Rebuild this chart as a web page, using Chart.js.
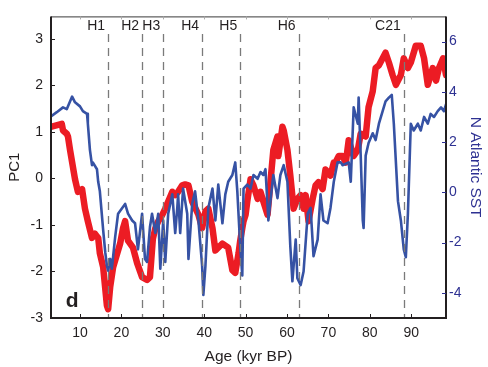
<!DOCTYPE html>
<html>
<head>
<meta charset="utf-8">
<script src="https://cdn.jsdelivr.net/npm/chart.js@4/dist/chart.umd.min.js"></script>
<style>
  html, body { margin: 0; padding: 0; background: #fff; }
  #grafico { display: block; }
</style>
</head>
<body>
<canvas id="grafico" width="488" height="367"></canvas>
<script>
// Datos
// PC1 (rojo, eje izquierdo)
const edadPC1 = [3.15,5.6,5.9,6.8,7.1,7.6,8.8,9.5,10.5,11.2,
  11.9,12.9,13.6,14.4,14.8,15.6,16.5,16.8,17.3,18.0,
  19.0,19.7,20.4,20.9,21.6,22.8,23.8,25.0,26.2,26.9,
  27.6,28.2,28.9,29.9,30.6,32.3,33.0,33.7,34.7,35.4,
  36.2,37.1,38.6,39.5,40.3,41.0,42.0,42.7,44.4,45.8,
  46.8,47.5,48.3,48.7,49.2,49.5,50.0,50.4,51.2,51.9,
  52.9,53.6,54.3,55.3,56.0,56.7,57.7,57.9,58.9,59.2,
  60.1,60.8,61.6,62.5,63.3,64.0,64.5,65.2,66.2,66.9,
  67.6,68.6,69.3,70.5,71.3,71.7,72.5,73.4,74.2,74.9,
  76.1,77.1,77.8,79.0,79.7,80.7,81.4,82.2,83.1,83.8,
  84.6,85.5,86.3,87.5,88.2,89.2,89.9,91.1,92.3,93.1,
  94.0,95.2,96.0,96.7,97.7,98.4];
const valoresPC1 = [1.11,1.17,1.03,0.96,0.90,0.61,-0.02,-0.29,-0.23,-0.65,
  -0.92,-1.28,-1.19,-1.28,-1.61,-1.91,-2.73,-2.81,-2.33,-1.91,
  -1.61,-1.40,-1.07,-0.92,-1.34,-1.49,-1.82,-2.12,-2.18,-2.12,
  -1.3,-1.07,-0.92,-0.78,-0.65,-0.29,-0.36,-0.29,-0.15,-0.13,
  -0.15,-0.50,-0.78,-1.07,-0.71,-0.65,-1.07,-1.55,-1.40,-1.49,
  -1.97,-2.03,-1.61,-1.34,-1.07,-0.92,-0.78,-0.50,-0.02,-0.15,
  -0.44,-0.29,-0.50,-0.78,-0.08,0.61,0.90,0.48,1.11,1.03,
  0.61,0.06,-0.65,-0.44,-0.36,-0.65,-0.36,-0.92,-0.44,-0.15,
  -0.08,-0.23,0.19,0.06,0.34,0.34,0.48,0.48,0.34,0.82,
  0.48,0.61,0.96,0.90,1.53,1.87,2.37,2.43,2.58,2.70,
  2.49,2.22,2.01,2.22,2.58,2.37,2.49,2.85,2.85,2.58,
  2.01,2.37,2.10,2.37,2.58,2.22];

// N Atlantic SST (azul, eje derecho)
const edadSST = [3.15,4.4,5.9,6.8,8.1,8.8,10.0,10.7,11.7,11.9,
  12.4,12.9,13.1,14.1,14.4,14.8,15.6,16.1,16.5,16.8,
  17.3,17.7,18.5,19.2,20.2,20.9,21.6,22.6,23.3,24.0,
  25.0,25.7,26.2,26.9,27.4,28.2,28.9,29.4,30.1,30.6,
  31.3,32.3,33.0,33.5,33.7,34.2,34.9,35.9,36.2,37.1,
  37.8,38.6,39.5,39.8,40.3,41.0,42.0,42.7,43.4,44.4,
  45.1,45.8,46.8,47.5,48.0,48.7,49.2,49.5,50.4,51.2,
  51.9,52.9,53.6,54.3,54.8,55.5,56.5,56.7,57.7,58.4,
  59.2,60.1,60.8,61.3,62.1,62.5,63.3,64.0,65.0,65.7,
  66.4,67.4,68.1,68.8,69.8,70.5,71.3,72.2,73.0,73.4,
  74.9,75.4,76.1,77.1,77.3,77.8,78.3,78.5,79.0,79.7,
  80.7,81.4,82.2,83.1,83.8,84.6,85.3,85.8,86.8,87.5,
  88.2,88.7,89.2,89.9,90.6,91.6,92.3,93.1,94.0,94.7,
  95.5,96.4,97.2,97.9,98.4];
const valoresSST = [3.04,3.19,3.38,3.31,3.81,3.58,3.42,3.23,3.12,2.73,
  1.69,1.08,1.19,0.92,0.42,0.04,-1.50,-2.38,-2.92,-3.12,
  -2.65,-3.04,-1.77,-0.85,-0.62,-0.46,-0.85,-1.12,-1.23,-2.27,
  -0.85,-2.65,-2.77,-1.38,-0.85,-1.62,-0.85,-3.04,-1.12,-2.77,
  -0.85,-0.08,-1.62,-0.62,-0.08,-1.62,0.15,-0.85,-2.65,-0.46,
  0.04,-1.12,-2.92,-4.08,-2.92,-0.62,0.15,-1.12,0.31,-1.23,
  -0.08,0.42,0.69,1.19,0.04,-2.15,-3.31,0.15,0.31,0.15,
  0.69,0.54,0.81,0.69,0.92,-1.12,0.42,0.69,-0.23,0.69,
  1.08,0.42,-2.15,-3.54,-1.88,-3.42,-3.69,-3.15,-0.85,-0.62,
  -2.54,-1.88,-0.08,-1.12,-1.23,-0.62,0.42,1.19,1.19,1.08,
  1.19,0.42,3.38,2.73,3.77,1.46,-1.12,-1.42,1.46,1.96,
  2.35,2.08,2.73,3.23,3.62,3.77,3.88,2.73,-0.35,-1.12,
  -2.27,-2.58,-0.85,2.73,2.46,2.73,2.46,3.0,2.73,3.12,
  3.0,3.23,3.38,3.23,3.5];

// Eventos (Heinrich y C21)
const eventos = ['H1', 'H2', 'H3', 'H4', 'H5', 'H6', 'C21'];
const edadEventos = [16.8, 25.0, 30.1, 39.5, 48.7, 62.8, 88.2];

// Ticks
const ticksEdad = [10, 20, 30, 40, 50, 60, 70, 80, 90];
const ticksPC1 = [-3, -2, -1, 0, 1, 2, 3];
const ticksSST = [-4, -2, 0, 2, 4, 6];

const FUENTE = '"Liberation Sans", Arial, Helvetica, sans-serif';
const ROJO = '#ec1c24';
const AZUL = '#3652a4';
const AZUL_TEXTO = '#2e3192';

// Plugin: líneas punteadas, marco y ticks hacia adentro
const marcoPlugin = {
  id: 'marco',
  afterDatasetsDraw(chart) {
    const { ctx, chartArea: a, scales } = chart;
    const x = scales.x, yL = scales.y, yR = scales.y1;

    // Líneas punteadas de eventos
    ctx.save();
    ctx.strokeStyle = '#7a7a7a';
    ctx.lineWidth = 1.3;
    ctx.setLineDash([8, 6]);
    edadEventos.forEach(edad => {
      const px = Math.round(x.getPixelForValue(edad)) + 0.5;
      ctx.beginPath();
      ctx.moveTo(px, yL.getPixelForValue(3.1));
      ctx.lineTo(px, a.bottom);
      ctx.stroke();
    });
    ctx.setLineDash([]);

    // Etiquetas de eventos
    ctx.fillStyle = '#231f20';
    ctx.font = '14px ' + FUENTE;
    ctx.textAlign = 'right';
    ctx.textBaseline = 'middle';
    eventos.forEach((nombre, i) => {
      ctx.fillText(nombre, x.getPixelForValue(edadEventos[i]) - 3, yL.getPixelForValue(3.27));
    });

    // Letra del panel
    ctx.font = 'bold 21px ' + FUENTE;
    ctx.textAlign = 'center';
    ctx.fillText('d', x.getPixelForValue(8.1), yL.getPixelForValue(-2.64));

    // Marco
    ctx.strokeStyle = '#3a3a3a';
    ctx.lineWidth = 1;
    ctx.beginPath();
    ctx.moveTo(a.left, a.top + 0.5);
    ctx.lineTo(a.right, a.top + 0.5);
    ctx.stroke();

    ctx.strokeStyle = '#231f20';
    ctx.lineWidth = 2;
    ctx.beginPath();
    ctx.moveTo(a.left, a.top);
    ctx.lineTo(a.left, a.bottom);
    ctx.lineTo(a.right, a.bottom);
    ctx.lineTo(a.right, a.top);
    ctx.stroke();

    // Ticks inferiores y superiores
    ctx.lineWidth = 1;
    ticksEdad.forEach(t => {
      const px = Math.round(x.getPixelForValue(t)) + 0.5;
      ctx.strokeStyle = '#231f20';
      ctx.beginPath();
      ctx.moveTo(px, a.bottom);
      ctx.lineTo(px, a.bottom - 4);
      ctx.stroke();
      ctx.strokeStyle = '#aaaaaa';
      ctx.beginPath();
      ctx.moveTo(px, a.top);
      ctx.lineTo(px, a.top + 3);
      ctx.stroke();
    });
    // Ticks izquierdos
    ctx.strokeStyle = '#231f20';
    ticksPC1.forEach(t => {
      const py = Math.round(yL.getPixelForValue(t)) + 0.5;
      ctx.beginPath();
      ctx.moveTo(a.left, py);
      ctx.lineTo(a.left + 4, py);
      ctx.stroke();
    });
    // Ticks derechos
    ctx.strokeStyle = AZUL_TEXTO;
    ticksSST.forEach(t => {
      const py = Math.round(yR.getPixelForValue(t)) + 0.5;
      ctx.beginPath();
      ctx.moveTo(a.right, py);
      ctx.lineTo(a.right - 4, py);
      ctx.stroke();
    });
    ctx.restore();
  }
};

const puntosPC1 = edadPC1.map((e, i) => ({ x: e, y: valoresPC1[i] }));
const puntosSST = edadSST.map((e, i) => ({ x: e, y: valoresSST[i] }));

new Chart(document.getElementById('grafico'), {
  type: 'line',
  data: {
    datasets: [
      {
        label: 'N Atlantic SST',
        data: puntosSST,
        yAxisID: 'y1',
        borderColor: AZUL,
        borderWidth: 2.6,
        pointRadius: 0,
        tension: 0,
        borderJoinStyle: 'round',
        borderCapStyle: 'round'
      },
      {
        label: 'PC1',
        data: puntosPC1,
        yAxisID: 'y',
        borderColor: ROJO,
        borderWidth: 6.5,
        pointRadius: 0,
        tension: 0,
        borderJoinStyle: 'round',
        borderCapStyle: 'round'
      }
    ]
  },
  options: {
    responsive: false,
    devicePixelRatio: 1,
    animation: false,
    events: [],
    layout: { padding: { top: 8, left: 0, right: 0, bottom: 0 } },
    plugins: {
      legend: { display: false },
      tooltip: { enabled: false }
    },
    scales: {
      x: {
        type: 'linear',
        min: 3,
        max: 98.4,
        afterBuildTicks: s => { s.ticks = ticksEdad.map(v => ({ value: v })); },
        afterFit: s => { s.height = 49; },
        grid: { display: false, drawTicks: false },
        border: { display: false },
        ticks: {
          color: '#231f20',
          padding: 7,
          maxRotation: 0,
          font: { family: FUENTE, size: 14 }
        },
        title: {
          display: true,
          text: 'Age (kyr BP)',
          color: '#231f20',
          padding: { top: 0, bottom: 1 },
          font: { family: FUENTE, size: 15.5 }
        }
      },
      y: {
        position: 'left',
        min: -3,
        max: 3.48,
        afterBuildTicks: s => { s.ticks = ticksPC1.map(v => ({ value: v })); },
        afterFit: s => { s.width = 51; },
        grid: { display: false, drawTicks: false },
        border: { display: false },
        ticks: {
          color: '#231f20',
          padding: 8,
          font: { family: FUENTE, size: 14 }
        },
        title: {
          display: true,
          text: 'PC1',
          color: '#231f20',
          padding: { top: 6, bottom: 0 },
          font: { family: FUENTE, size: 15 }
        }
      },
      y1: {
        position: 'right',
        min: -5,
        max: 7,
        afterBuildTicks: s => { s.ticks = ticksSST.map(v => ({ value: v })); },
        afterFit: s => { s.width = 42; },
        grid: { display: false, drawTicks: false },
        border: { display: false },
        ticks: {
          color: AZUL_TEXTO,
          padding: 3,
          font: { family: FUENTE, size: 14 }
        },
        title: {
          display: true,
          text: 'N Atlantic SST',
          color: AZUL_TEXTO,
          padding: { top: 3, bottom: 0 },
          font: { family: FUENTE, size: 15.5 }
        }
      }
    }
  },
  plugins: [marcoPlugin]
});
</script>
</body>
</html>
